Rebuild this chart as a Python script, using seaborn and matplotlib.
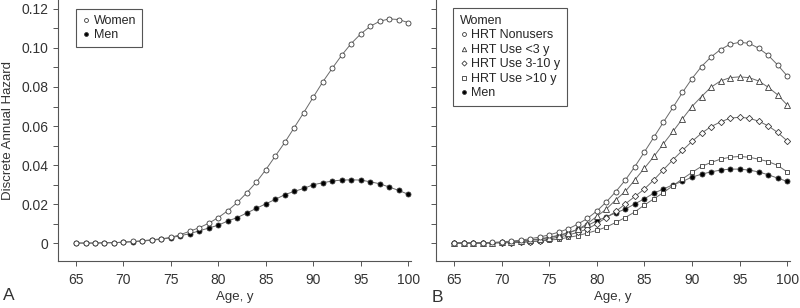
import numpy as np
import pandas as pd
import matplotlib
matplotlib.use("Agg")
import matplotlib.pyplot as plt
import seaborn as sns
from matplotlib.lines import Line2D
from matplotlib.ticker import MultipleLocator

# edades 65..100
ages = list(range(65, 101))

# Panel A
women_a = [0, 0, 0, 0.0002, 0.0002, 0.0005, 0.0008, 0.0012, 0.0017, 0.0022,
           0.0029, 0.0043, 0.0061, 0.0079, 0.0102, 0.0131, 0.0166, 0.0208, 0.0258, 0.0312,
           0.0376, 0.0446, 0.0516, 0.0592, 0.0669, 0.0748, 0.0826, 0.0896, 0.0963, 0.1023,
           0.1072, 0.1111, 0.1137, 0.1149, 0.1146, 0.1130]
men_a = [0, 0, 0, 0.0001, 0.0002, 0.0004, 0.0007, 0.0010, 0.0015, 0.0020,
         0.0027, 0.0038, 0.0048, 0.0063, 0.0077, 0.0092, 0.0113, 0.0131, 0.0154, 0.0178,
         0.0201, 0.0224, 0.0248, 0.0265, 0.0280, 0.0299, 0.0309, 0.0318, 0.0323, 0.0324,
         0.0323, 0.0314, 0.0304, 0.0287, 0.0270, 0.0250]

# Panel B
nonusers_b = [0, 0, 0, 0.0001, 0.0003, 0.0006, 0.0010, 0.0015, 0.0022, 0.0031,
              0.0042, 0.0056, 0.0073, 0.0097, 0.0126, 0.0164, 0.0211, 0.0264, 0.0323, 0.0392,
              0.0467, 0.0543, 0.0620, 0.0695, 0.0772, 0.0843, 0.0905, 0.0954, 0.0992, 0.1019,
              0.1029, 0.1024, 0.0999, 0.0963, 0.0913, 0.0857]
use_lt3_b = [0, 0, 0, 0.0001, 0.0002, 0.0003, 0.0005, 0.0009, 0.0014, 0.0020,
             0.0027, 0.0038, 0.0051, 0.0070, 0.0099, 0.0137, 0.0174, 0.0222, 0.0265, 0.0324,
             0.0384, 0.0444, 0.0509, 0.0572, 0.0637, 0.0700, 0.0751, 0.0799, 0.0831, 0.0848,
             0.0852, 0.0848, 0.0831, 0.0799, 0.0760, 0.0708]
use_3_10_b = [0, 0, 0, 0, 0.0001, 0.0001, 0.0002, 0.0003, 0.0007, 0.0012,
              0.0020, 0.0031, 0.0041, 0.0055, 0.0072, 0.0099, 0.0131, 0.0162, 0.0201, 0.0239,
              0.0277, 0.0324, 0.0376, 0.0427, 0.0475, 0.0521, 0.0563, 0.0597, 0.0621, 0.0640,
              0.0645, 0.0640, 0.0625, 0.0601, 0.0567, 0.0524]
use_gt10_b = [0, 0, 0, 0, 0.0001, 0.0002, 0.0003, 0.0005, 0.0007, 0.0010,
              0.0015, 0.0020, 0.0029, 0.0038, 0.0051, 0.0065, 0.0082, 0.0106, 0.0131, 0.0160,
              0.0195, 0.0227, 0.0259, 0.0294, 0.0329, 0.0362, 0.0393, 0.0413, 0.0430, 0.0440,
              0.0444, 0.0440, 0.0430, 0.0418, 0.0398, 0.0365]
men_b = [0, 0, 0, 0.0001, 0.0002, 0.0004, 0.0006, 0.0010, 0.0015, 0.0022,
         0.0030, 0.0040, 0.0053, 0.0070, 0.0090, 0.0114, 0.0134, 0.0155, 0.0174, 0.0201,
         0.0227, 0.0256, 0.0277, 0.0299, 0.0316, 0.0338, 0.0353, 0.0365, 0.0374, 0.0379,
         0.0379, 0.0374, 0.0365, 0.0350, 0.0333, 0.0316]

sns.set_style("ticks")
plt.rcParams['font.family'] = ['Liberation Sans', 'DejaVu Sans']

LINE = "#6a6a6a"
EDGE = "#3a3a3a"
AXC = "#555555"
TXT = "#333333"

fig = plt.figure(figsize=(8, 3.08), dpi=100)
axA = fig.add_axes([58/800, 1-261/308, 353/800, 261/308])
axB = fig.add_axes([436/800, 1-261/308, 354/800, 261/308])


def serie(ax, y, marker, fill, ms=3.6):
    sns.lineplot(x=ages, y=y, ax=ax, color=LINE, lw=0.7, marker=marker,
                 markersize=ms, markerfacecolor=fill, markeredgecolor=EDGE,
                 markeredgewidth=0.6)


serie(axA, men_a, 'o', 'black')
serie(axA, women_a, 'o', 'white')

serie(axB, men_b, 'o', 'black')
serie(axB, use_gt10_b, 's', 'white', 3.4)
serie(axB, use_3_10_b, 'D', 'white', 3.2)
serie(axB, use_lt3_b, '^', 'white', 3.8)
serie(axB, nonusers_b, 'o', 'white')

for ax in (axA, axB):
    ax.set_xlim(63.1, 100.3)
    ax.set_ylim(-0.0092, 0.1246)
    ax.yaxis.set_major_locator(MultipleLocator(0.02))
    ax.yaxis.set_minor_locator(MultipleLocator(0.01))
    ax.xaxis.set_major_locator(MultipleLocator(5))
    ax.tick_params(axis='both', which='both', length=3.5, width=0.7,
                   color=AXC, labelsize=10, labelcolor=TXT)
    ax.tick_params(axis='x', pad=5)
    for s in ('top', 'right'):
        ax.spines[s].set_visible(False)
    for s in ('left', 'bottom'):
        ax.spines[s].set_color(AXC)
        ax.spines[s].set_linewidth(0.8)
    ax.set_xlabel("Age, y", fontsize=9.5, color=TXT, labelpad=3)

axA.set_yticklabels(["0" if abs(v) < 1e-9 else f"{v:.2f}" for v in axA.get_yticks()])
axA.set_ylabel("Discrete Annual Hazard", fontsize=9.5, color=TXT, labelpad=5)
axB.set_ylabel("")
axB.tick_params(axis='y', labelleft=False)


def h(marker, fill, ms=2.8):
    return Line2D([], [], ls='none', marker=marker, markersize=ms,
                  markerfacecolor=fill, markeredgecolor=EDGE, markeredgewidth=0.6)


legA = axA.legend([h('o', 'white'), h('o', 'black')], ["Women", "Men"],
                  loc='upper left', bbox_to_anchor=(0.051, 0.966), borderaxespad=0,
                  fontsize=9, handlelength=0.6, handletextpad=0.3,
                  labelspacing=0.15, borderpad=0.5, fancybox=False, framealpha=1)
legA.get_frame().set_edgecolor(AXC)
legA.get_frame().set_linewidth(0.8)

legB = axB.legend([h('o', 'white'), h('^', 'white', 3.2), h('D', 'white', 2.6),
                   h('s', 'white', 2.6), h('o', 'black')],
                  ["HRT Nonusers", "HRT Use <3 y", "HRT Use 3-10 y", "HRT Use >10 y", "Men"],
                  title="Women", title_fontsize=9, alignment='left',
                  loc='upper left', bbox_to_anchor=(0.048, 0.969), borderaxespad=0,
                  fontsize=9, handlelength=0.6, handletextpad=0.3,
                  labelspacing=0.2, borderpad=0.55, fancybox=False, framealpha=1)
legB.get_frame().set_edgecolor(AXC)
legB.get_frame().set_linewidth(0.8)

fig.text(3/800, 1-295/308, "A", fontsize=12.5, color=TXT, va='center')
fig.text(432/800, 1-297/308, "B", fontsize=12.5, color=TXT, va='center')

fig.savefig("out.png", dpi=100)
